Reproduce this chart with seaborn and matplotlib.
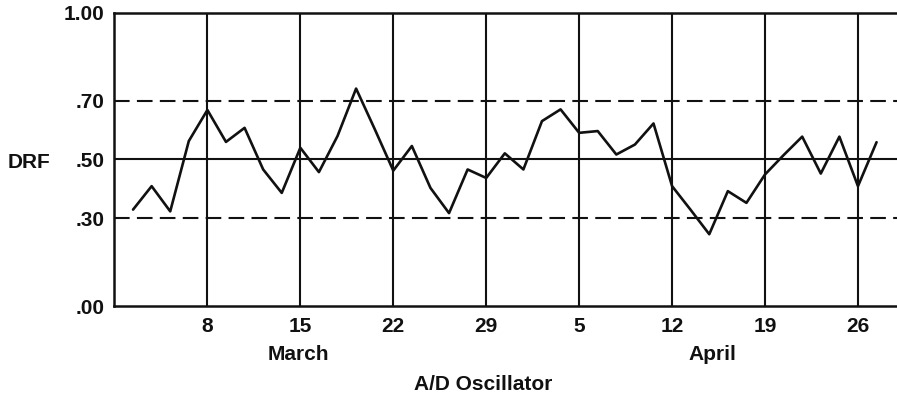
import matplotlib
matplotlib.use("Agg")
import matplotlib.pyplot as plt
import seaborn as sns
import numpy as np
import pandas as pd

# ---- data ----
start_date = "1993-03-02"
end_date = "1993-04-27"
drf_values = [
    0.329, 0.409, 0.323, 0.563,            # Mar 2-5
    0.669, 0.560, 0.608, 0.466, 0.386,     # Mar 8-12
    0.540, 0.457, 0.580, 0.742, 0.604,     # Mar 15-19
    0.462, 0.546, 0.403, 0.317, 0.466,     # Mar 22-26
    0.437, 0.521, 0.466, 0.631, 0.671,     # Mar 29-Apr 2
    0.591, 0.597, 0.517, 0.551, 0.623,     # Apr 5-9
    0.409, 0.328, 0.245, 0.392, 0.352,     # Apr 12-16
    0.449, 0.515, 0.578, 0.452, 0.578,     # Apr 19-23
    0.409, 0.559,                          # Apr 26-27
]
tick_dates = ["1993-03-08", "1993-03-15", "1993-03-22", "1993-03-29",
              "1993-04-05", "1993-04-12", "1993-04-19", "1993-04-26"]
tick_labels = ["8", "15", "22", "29", "5", "12", "19", "26"]
ytick_values = [0.0, 0.30, 0.50, 0.70, 1.00]
ytick_labels = [".00", ".30", ".50", ".70", "1.00"]
dashed_levels = [0.30, 0.70]
solid_levels = [0.50]
month_labels = ["March", "April"]

# trading-day calendar (index 0 = Mar 1)
calendar = pd.bdate_range("1993-03-01", "1993-04-30")
cal_index = {d: i for i, d in enumerate(calendar)}
dates = pd.bdate_range(start_date, end_date)
df = pd.DataFrame({"pos": [cal_index[d] for d in dates], "DRF": drf_values})
tick_pos = [cal_index[pd.Timestamp(d)] for d in tick_dates]

sns.set_style("white")
plt.rcParams["font.family"] = ["Liberation Sans", "DejaVu Sans"]
plt.rcParams["font.weight"] = "bold"

FS = 15

fig = plt.figure(figsize=(8.97, 3.97), dpi=100)
ax = fig.add_axes([0.1276, 0.2292, 0.8724, 0.7381])

for xp in tick_pos:
    ax.axvline(xp, color="#111111", lw=1.5, zorder=1)
for lv in dashed_levels:
    ax.axhline(lv, color="#111111", lw=1.5, linestyle=(0, (7.5, 3.5)), zorder=1)
for lv in solid_levels:
    ax.axhline(lv, color="#111111", lw=1.5, zorder=1)

sns.lineplot(data=df, x="pos", y="DRF", ax=ax, color="#111111", lw=1.9, zorder=3)

ax.set_xlim(0, 42.1)
ax.set_ylim(0, 1.0)
ax.set_xticks(tick_pos)
ax.set_xticklabels(tick_labels, fontsize=FS, fontweight="bold")
ax.set_yticks(ytick_values)
ax.set_yticklabels(ytick_labels, fontsize=FS, fontweight="bold")
ax.tick_params(axis="both", length=0, colors="#111111")
ax.tick_params(axis="x", pad=8)
ax.tick_params(axis="y", pad=7)
ax.set_xlabel("")
ax.set_ylabel("")

for side in ["left", "top", "bottom"]:
    ax.spines[side].set_visible(True)
    ax.spines[side].set_color("#111111")
    ax.spines[side].set_linewidth(1.8)
ax.spines["right"].set_visible(False)

# month labels and axis titles
fig.text(298 / 897, 1 - 355 / 397, month_labels[0], ha="center", va="center",
         fontsize=FS, fontweight="bold", color="#111111")
fig.text(712 / 897, 1 - 355 / 397, month_labels[1], ha="center", va="center",
         fontsize=FS, fontweight="bold", color="#111111")
fig.text(483 / 897, 1 - 385 / 397, "A/D Oscillator", ha="center", va="center",
         fontsize=FS, fontweight="bold", color="#111111")
fig.text(29 / 897, 1 - 163 / 397, "DRF", ha="center", va="center",
         fontsize=FS, fontweight="bold", color="#111111")

fig.savefig("out.png", dpi=100)
